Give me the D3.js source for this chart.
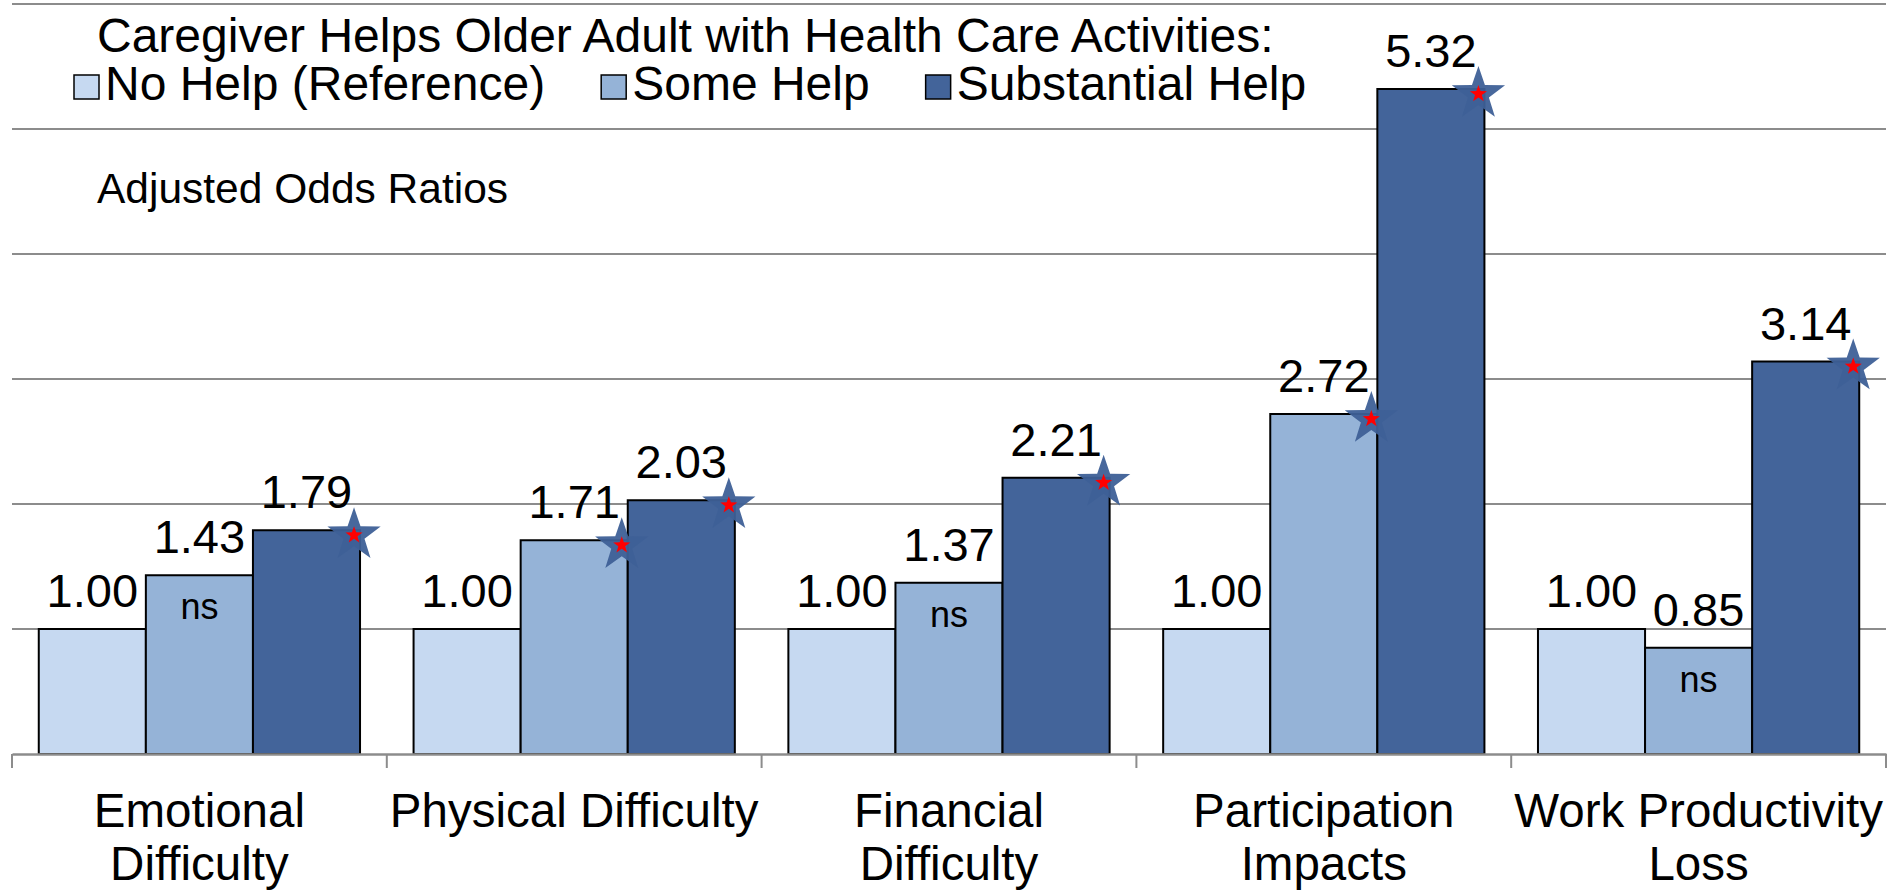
<!DOCTYPE html>
<html>
<head>
<meta charset="utf-8">
<script src="https://cdn.jsdelivr.net/npm/d3@7"></script>
<style>
  html, body { margin: 0; padding: 0; background: #ffffff; }
  svg { display: block; font-family: "Liberation Sans", Arial, sans-serif; }
</style>
</head>
<body>
<svg id="chart" width="1902" height="890"></svg>
<script>
// ---- data ----
const categories = ["Emotional Difficulty", "Physical Difficulty", "Financial Difficulty", "Participation Impacts", "Work Productivity Loss"];
const seriesNames = ["No Help (Reference)", "Some Help", "Substantial Help"];
const noHelp = [1.00, 1.00, 1.00, 1.00, 1.00];
const someHelp = [1.43, 1.71, 1.37, 2.72, 0.85];
const substantialHelp = [1.79, 2.03, 2.21, 5.32, 3.14];
// significance: "ns" = not significant, "star" = significant, "" = reference
const someHelpSig = ["ns", "star", "ns", "star", "ns"];
const substantialHelpSig = ["star", "star", "star", "star", "star"];
const yTicks = [0, 1, 2, 3, 4, 5, 6];
const titleText = "Caregiver Helps Older Adult with Health Care Activities:";
const yAxisTitle = "Adjusted Odds Ratios";

(function () {
const colors = ["#C6D9F1", "#95B3D7", "#43649A"];
const seriesValues = [noHelp, someHelp, substantialHelp];
const seriesSig = [categories.map(() => ""), someHelpSig, substantialHelpSig];

const svg = d3.select("#chart");
const pLeft = 12, pRight = 1886, pBottom = 754, pTop = 4;

const x0 = d3.scaleBand().domain(categories).range([pLeft, pRight]).paddingInner(0).paddingOuter(0);
const x1 = d3.scaleBand().domain(seriesNames).range([0, x0.bandwidth()]).paddingInner(0).paddingOuter(0.25);
const y = d3.scaleLinear().domain([0, 6]).range([pBottom, pTop]);

// gridlines
svg.append("g")
  .selectAll("line")
  .data(yTicks.filter(t => t > 0))
  .join("line")
  .attr("x1", pLeft).attr("x2", pRight)
  .attr("y1", d => y(d)).attr("y2", d => y(d))
  .attr("stroke", "#8C8C8C").attr("stroke-width", 2);

// bars
const rows = [];
categories.forEach((c, i) => {
  seriesNames.forEach((s, j) => {
    rows.push({ cat: c, ser: s, j: j, v: seriesValues[j][i], sig: seriesSig[j][i] });
  });
});

svg.append("g")
  .selectAll("rect")
  .data(rows)
  .join("rect")
  .attr("x", d => x0(d.cat) + x1(d.ser))
  .attr("y", d => y(d.v))
  .attr("width", x1.bandwidth())
  .attr("height", d => y(0) - y(d.v))
  .attr("fill", d => colors[d.j])
  .attr("stroke", "#000")
  .attr("stroke-width", 2);

// x axis
const xAxis = d3.axisBottom(x0).tickSize(0).tickFormat("");
const gx = svg.append("g").attr("transform", `translate(0,${pBottom})`).call(xAxis);
gx.select(".domain").attr("stroke", "#8C8C8C").attr("stroke-width", 2.5);
const bounds = categories.map(c => x0(c)).concat([pRight]);
gx.selectAll("line.bound")
  .data(bounds)
  .join("line")
  .attr("class", "bound")
  .attr("x1", d => d).attr("x2", d => d)
  .attr("y1", 0).attr("y2", 14)
  .attr("stroke", "#8C8C8C").attr("stroke-width", 2);

// category labels (wrapped)
const catLabels = svg.append("g");
categories.forEach(c => {
  const cx = x0(c) + x0.bandwidth() / 2;
  const t = catLabels.append("text")
    .attr("x", cx)
    .attr("y", 827)
    .attr("text-anchor", "middle")
    .attr("font-size", 47.5)
    .attr("fill", "#000");
  const words = c.split(" ");
  let line = [];
  let tspan = t.append("tspan").attr("x", cx).attr("dy", 0);
  words.forEach(w => {
    line.push(w);
    tspan.text(line.join(" "));
    if (tspan.node().getComputedTextLength() > x0.bandwidth() - 4 && line.length > 1) {
      line.pop();
      tspan.text(line.join(" "));
      line = [w];
      tspan = t.append("tspan").attr("x", cx).attr("dy", 53).text(w);
    }
  });
});

// value labels
svg.append("g")
  .selectAll("text")
  .data(rows)
  .join("text")
  .attr("x", d => x0(d.cat) + x1(d.ser) + x1.bandwidth() / 2)
  .attr("y", d => y(d.v) - 22)
  .attr("text-anchor", "middle")
  .attr("font-size", 47)
  .attr("fill", "#000")
  .text(d => d.v.toFixed(2));

// ns labels
svg.append("g")
  .selectAll("text")
  .data(rows.filter(d => d.sig === "ns"))
  .join("text")
  .attr("x", d => x0(d.cat) + x1(d.ser) + x1.bandwidth() / 2)
  .attr("y", d => y(d.v) + 44)
  .attr("text-anchor", "middle")
  .attr("font-size", 36)
  .attr("fill", "#000")
  .text("ns");

// significance stars
function starPath(R, r) {
  const pts = [];
  for (let k = 0; k < 10; k++) {
    const rad = k % 2 === 0 ? R : r;
    const a = -Math.PI / 2 + k * Math.PI / 5;
    pts.push([rad * Math.cos(a), rad * Math.sin(a)]);
  }
  return "M" + pts.map(p => p[0].toFixed(2) + "," + p[1].toFixed(2)).join("L") + "Z";
}
const starG = svg.append("g")
  .selectAll("g")
  .data(rows.filter(d => d.sig === "star"))
  .join("g")
  .attr("transform", d => `translate(${x0(d.cat) + x1(d.ser) + x1.bandwidth() - 6},${y(d.v) + 5})`);
starG.append("path").attr("d", starPath(28, 11)).attr("fill", "#3E6097").attr("opacity", 0.95);
starG.append("path").attr("d", starPath(9, 3.6)).attr("fill", "#FF0000");

// title
svg.append("text")
  .attr("x", 97).attr("y", 52)
  .attr("font-size", 48)
  .attr("fill", "#000")
  .text(titleText);

// legend
const legend = svg.append("g");
let lx = 74;
seriesNames.forEach((s, j) => {
  legend.append("rect")
    .attr("x", lx).attr("y", 75)
    .attr("width", 25).attr("height", 24)
    .attr("fill", colors[j])
    .attr("stroke", "#000").attr("stroke-width", 1.5);
  const t = legend.append("text")
    .attr("x", lx + 31).attr("y", 100)
    .attr("font-size", 48)
    .attr("fill", "#000")
    .text(s);
  lx = lx + 31 + t.node().getComputedTextLength() + 56;
});

// y axis title
svg.append("text")
  .attr("x", 97).attr("y", 203)
  .attr("font-size", 42.5)
  .attr("fill", "#000")
  .text(yAxisTitle);
})();
</script>
</body>
</html>
